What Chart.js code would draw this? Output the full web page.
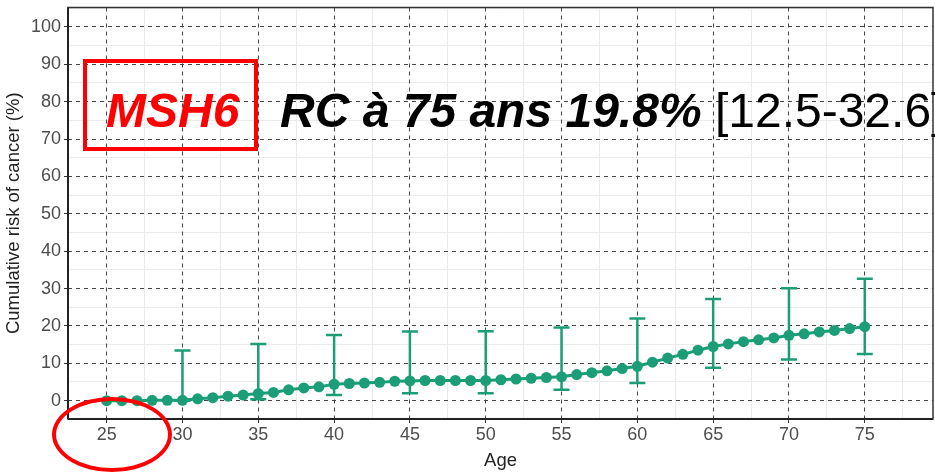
<!DOCTYPE html>
<html>
<head>
<meta charset="utf-8">
<script src="https://cdn.jsdelivr.net/npm/chart.js@4.4.1/dist/chart.umd.min.js"></script>
<style>
  html, body { margin: 0; padding: 0; background: #fff; }
  #wrap { position: relative; width: 935px; height: 474px; overflow: hidden; font-family: 'Liberation Sans', Arial, sans-serif; }
  #chart { position: absolute; left: 0; top: 0; }
  .gene-box { position: absolute; left: 83px; top: 59px; width: 175px; height: 92px; box-sizing: border-box; border: 4.5px solid #ff0000; }
  .gene { position: absolute; left: 106px; top: 87px; font-size: 48px; line-height: 48px; font-weight: bold; font-style: italic; color: #ff0000; white-space: nowrap; }
  .risk { position: absolute; left: 280px; top: 87px; font-size: 48px; line-height: 48px; color: #000; white-space: nowrap; }
  .risk b { font-style: italic; }
  .ring { position: absolute; left: 52px; top: 397px; width: 120px; height: 75px; box-sizing: border-box; border: 4.5px solid #ff0000; border-radius: 50%; }
</style>
</head>
<body>
<div id="wrap">
  <canvas id="chart" width="935" height="474"></canvas>
  <div class="gene-box"></div>
  <div class="gene">MSH6</div>
  <div class="risk"><b>RC à 75 ans 19.8%</b> [12.5-32.6]</div>
  <div class="ring"></div>
</div>
<script>
// cumulative risk by age
const ages = [25, 26, 27, 28, 29, 30, 31, 32, 33, 34, 35, 36, 37, 38, 39, 40, 41, 42, 43, 44, 45, 46, 47, 48, 49, 50,
  51, 52, 53, 54, 55, 56, 57, 58, 59, 60, 61, 62, 63, 64, 65, 66, 67, 68, 69, 70, 71, 72, 73, 74, 75];
const risk = [0, 0, 0, 0.1, 0.1, 0.1, 0.5, 0.8, 1.2, 1.5, 1.9, 2.2, 2.9, 3.4, 3.7, 4.4, 4.6, 4.7, 4.9, 5.2, 5.3, 5.4, 5.4, 5.4, 5.4, 5.4,
  5.6, 5.8, 6.0, 6.2, 6.4, 7.0, 7.5, 8.0, 8.6, 9.2, 10.3, 11.4, 12.4, 13.5, 14.5, 15.2, 15.8, 16.3, 16.8, 17.5, 17.9, 18.4, 18.8, 19.3, 19.8];

// confidence intervals every 5 years
const ciAges = [30, 35, 40, 45, 50, 55, 60, 65, 70, 75];
const ciLower = [0.0, 0.4, 1.5, 2.0, 2.0, 2.9, 4.7, 8.8, 11.0, 12.5];
const ciUpper = [13.4, 15.2, 17.6, 18.5, 18.6, 19.6, 22.0, 27.2, 30.1, 32.6];

const xTicks = [25, 30, 35, 40, 45, 50, 55, 60, 65, 70, 75];
const yTicks = [0, 10, 20, 30, 40, 50, 60, 70, 80, 90, 100];
const xMinorTicks = [22.5, 27.5, 32.5, 37.5, 42.5, 47.5, 52.5, 57.5, 62.5, 67.5, 72.5, 77.5];
const yMinorTicks = [5, 15, 25, 35, 45, 55, 65, 75, 85, 95, 105];

const green = '#1B9E77';
const X_MIN = 22.45, X_MAX = 79.5;
const Y_MIN = -4.9, Y_MAX = 105.2;

const noPadding = (axis) => {
  axis.paddingTop = 0; axis.paddingBottom = 0;
  axis.paddingLeft = 0; axis.paddingRight = 0;
};

const errorBars = {
  id: 'errorBars',
  beforeDatasetsDraw(chart) {
    const { ctx, scales: { x, y } } = chart;
    ctx.save();
    ctx.strokeStyle = green;
    ctx.lineWidth = 2.5;
    ciAges.forEach((a, i) => {
      const px = x.getPixelForValue(a);
      const lo = y.getPixelForValue(ciLower[i]);
      const hi = y.getPixelForValue(ciUpper[i]);
      ctx.beginPath();
      ctx.moveTo(px, lo); ctx.lineTo(px, hi);
      ctx.moveTo(px - 8, lo); ctx.lineTo(px + 8, lo);
      ctx.moveTo(px - 8, hi); ctx.lineTo(px + 8, hi);
      ctx.stroke();
    });
    ctx.restore();
  }
};

const panelBorder = {
  id: 'panelBorder',
  afterDraw(chart) {
    const { ctx, chartArea: a } = chart;
    ctx.save();
    ctx.strokeStyle = '#333';
    ctx.lineWidth = 1.5;
    ctx.strokeRect(a.left, a.top, a.right - a.left, a.bottom - a.top);
    ctx.strokeStyle = '#222';
    ctx.lineWidth = 2;
    ctx.beginPath();
    ctx.moveTo(a.left, a.bottom); ctx.lineTo(a.right, a.bottom);
    ctx.moveTo(a.left, a.top); ctx.lineTo(a.left, a.bottom);
    ctx.stroke();
    ctx.restore();
  }
};

const tickFont = { family: "'Liberation Sans', Arial, sans-serif", size: 18 };
const titleFont = { family: "'Liberation Sans', Arial, sans-serif", size: 18.5 };

new Chart(document.getElementById('chart'), {
  type: 'line',
  data: {
    datasets: [{
      data: ages.map((a, i) => ({ x: a, y: risk[i] })),
      borderColor: green,
      backgroundColor: green,
      borderWidth: 3,
      pointRadius: 5.5,
      pointBorderWidth: 0,
      tension: 0
    }]
  },
  options: {
    responsive: false,
    animation: false,
    layout: { autoPadding: false, padding: { top: 7.5, right: 2, left: 0, bottom: 0 } },
    plugins: { legend: { display: false }, tooltip: { enabled: false } },
    scales: {
      xMinor: {
        type: 'linear', position: 'bottom', min: X_MIN, max: X_MAX, z: -1,
        afterBuildTicks: (axis) => { axis.ticks = xMinorTicks.map(v => ({ value: v })); },
        afterFit: (axis) => { axis.height = 0; noPadding(axis); },
        ticks: { display: false },
        grid: { color: '#ebebeb', lineWidth: 1, drawTicks: false },
        border: { display: false }
      },
      yMinor: {
        type: 'linear', position: 'left', min: Y_MIN, max: Y_MAX, z: -1,
        afterBuildTicks: (axis) => { axis.ticks = yMinorTicks.map(v => ({ value: v })); },
        afterFit: (axis) => { axis.width = 0; noPadding(axis); },
        ticks: { display: false },
        grid: { color: '#ebebeb', lineWidth: 1, drawTicks: false },
        border: { display: false }
      },
      x: {
        type: 'linear', position: 'bottom', min: X_MIN, max: X_MAX,
        afterBuildTicks: (axis) => { axis.ticks = xTicks.map(v => ({ value: v })); },
        afterFit: (axis) => { axis.height = 55; noPadding(axis); },
        ticks: { color: '#4d4d4d', font: tickFont, padding: 1, maxRotation: 0 },
        grid: { color: '#444', lineWidth: 1, tickLength: 4, tickColor: '#333', tickBorderDash: [] },
        border: { display: false, dash: [4, 4] },
        title: { display: true, text: 'Age', color: '#222', font: titleFont, padding: { top: 0, bottom: 2 } }
      },
      y: {
        type: 'linear', position: 'left', min: Y_MIN, max: Y_MAX,
        afterBuildTicks: (axis) => { axis.ticks = yTicks.map(v => ({ value: v })); },
        afterFit: (axis) => { axis.width = 68; noPadding(axis); },
        ticks: { color: '#4d4d4d', font: tickFont, padding: 3 },
        grid: { color: '#444', lineWidth: 1, tickLength: 4, tickColor: '#333', tickBorderDash: [] },
        border: { display: false, dash: [4, 4] },
        title: { display: true, text: 'Cumulative risk of cancer (%)', color: '#222', font: titleFont, padding: { top: 3, bottom: 0 } }
      }
    }
  },
  plugins: [errorBars, panelBorder]
});
</script>
</body>
</html>
